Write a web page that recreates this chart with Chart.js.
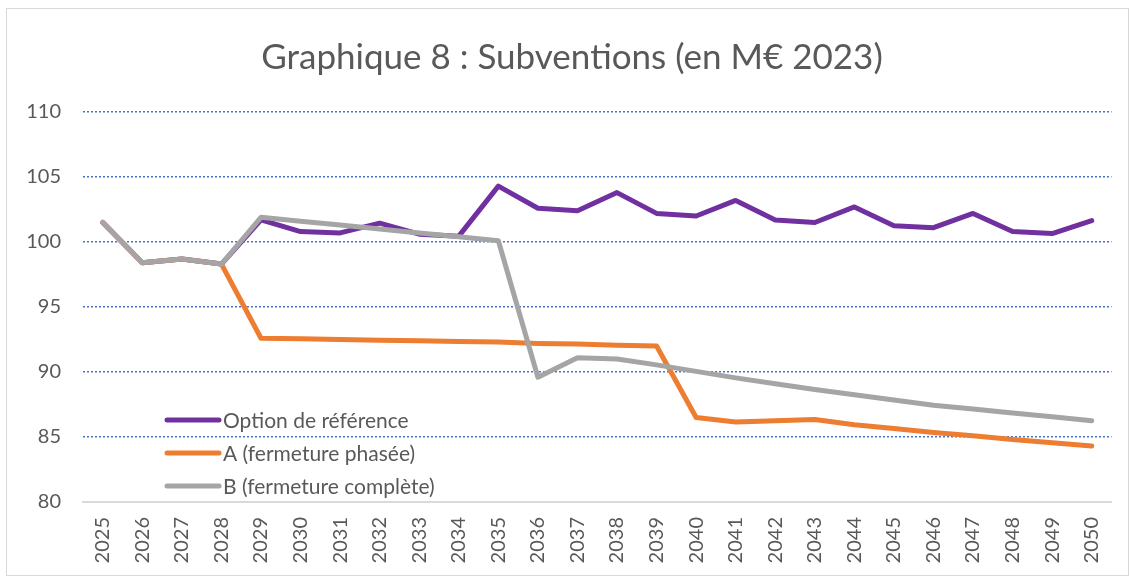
<!DOCTYPE html>
<html>
<head>
<meta charset="utf-8">
<script src="https://cdn.jsdelivr.net/npm/chart.js@4"></script>
<style>
    html, body { margin: 0; padding: 0; background: #fff; }
    #frame {
        position: absolute; left: 6px; top: 8px; width: 1123px; height: 568px;
        border: 1px solid #d9d9d9; box-sizing: border-box;
    }
    #wrap { position: absolute; left: 0; top: 0; width: 1131px; height: 578px; }
</style>
</head>
<body>
<div id="frame"></div>
<div id="wrap"><canvas id="subChart"></canvas></div>
<script>
// Data
const years = ['2025', '2026', '2027', '2028', '2029', '2030', '2031', '2032', '2033', '2034', '2035', '2036', '2037',
    '2038', '2039', '2040', '2041', '2042', '2043', '2044', '2045', '2046', '2047', '2048', '2049', '2050'];
const reference = [101.5, 98.4, 98.7, 98.3, 101.7, 100.8, 100.7, 101.45, 100.6, 100.45, 104.3, 102.6, 102.4,
    103.8, 102.2, 102.0, 103.2, 101.7, 101.5, 102.7, 101.25, 101.1, 102.2, 100.8, 100.65, 101.65];
const phased = [101.5, 98.4, 98.7, 98.3, 92.6, 92.55, 92.5, 92.45, 92.4, 92.35, 92.3, 92.2, 92.15,
    92.05, 92.0, 86.5, 86.15, 86.25, 86.35, 85.95, 85.65, 85.35, 85.1, 84.8, 84.55, 84.3];
const complete = [101.5, 98.4, 98.7, 98.3, 101.9, 101.6, 101.3, 101.0, 100.7, 100.4, 100.1, 89.6, 91.1,
    91.0, 90.55, 90.05, 89.55, 89.1, 88.65, 88.25, 87.85, 87.45, 87.15, 86.85, 86.55, 86.25];
const seriesNames = ['Option de référence', 'A (fermeture phasée)', 'B (fermeture complète)'];
const seriesColors = ['#7030A0', '#ED7D31', '#A5A5A5'];

const textColor = '#595959';
const fontFamily = 'Lato, "Open Sans", sans-serif';

// Legend drawn inside the plot, bottom left
const insideLegend = {
    id: 'insideLegend',
    afterDatasetsDraw(chart) {
        const ctx = chart.ctx;
        ctx.save();
        ctx.font = '21px ' + fontFamily;
        ctx.textBaseline = 'middle';
        ctx.lineCap = 'round';
        seriesNames.forEach((name, i) => {
            const y = 420 + i * 33;
            ctx.strokeStyle = seriesColors[i];
            ctx.lineWidth = 5;
            ctx.beginPath();
            ctx.moveTo(167, y);
            ctx.lineTo(219, y);
            ctx.stroke();
            ctx.fillStyle = textColor;
            ctx.fillText(name, 223, y + 1);
        });
        ctx.restore();
    }
};

function makeSet(label, data, color, order) {
    return {
        label: label,
        data: data,
        borderColor: color,
        backgroundColor: color,
        borderWidth: 5,
        pointRadius: 0,
        tension: 0,
        borderCapStyle: 'round',
        borderJoinStyle: 'round',
        order: order
    };
}

const ctx = document.getElementById('subChart').getContext('2d');
const subChart = new Chart(ctx, {
    type: 'line',
    data: {
        labels: years,
        datasets: [
            makeSet(seriesNames[0], reference, seriesColors[0], 3),
            makeSet(seriesNames[1], phased, seriesColors[1], 2),
            makeSet(seriesNames[2], complete, seriesColors[2], 1)
        ]
    },
    plugins: [insideLegend],
    options: {
        responsive: true,
        maintainAspectRatio: false,
        animation: false,
        layout: { padding: { left: 28, right: 15, top: 20, bottom: 0 } },
        plugins: {
            legend: { display: false },
            tooltip: { enabled: false },
            title: {
                display: true,
                text: 'Graphique 8 : Subventions (en M€ 2023)',
                color: textColor,
                font: { family: fontFamily, size: 35, weight: 'normal' },
                padding: { top: 17, bottom: 33 }
            }
        },
        scales: {
            x: {
                offset: true,
                grid: { display: false, drawTicks: false },
                border: { display: true, color: '#d9d9d9', width: 2 },
                ticks: {
                    color: textColor,
                    font: { family: fontFamily, size: 20 },
                    minRotation: 90,
                    maxRotation: 90,
                    autoSkip: false,
                    padding: 15
                },
                afterFit: (scale) => { scale.height = 76; }
            },
            y: {
                min: 80,
                max: 110,
                grid: {
                    color: (c) => c.tick && c.tick.value === 80 ? 'rgba(0,0,0,0)' : '#4472C4',
                    lineWidth: 1.5,
                    drawTicks: false
                },
                border: { display: false, dash: [2, 2] },
                ticks: {
                    stepSize: 5,
                    color: textColor,
                    font: { family: fontFamily, size: 20 },
                    padding: 22
                },
                afterFit: (scale) => { scale.width = 55; }
            }
        }
    }
});
</script>
</body>
</html>
